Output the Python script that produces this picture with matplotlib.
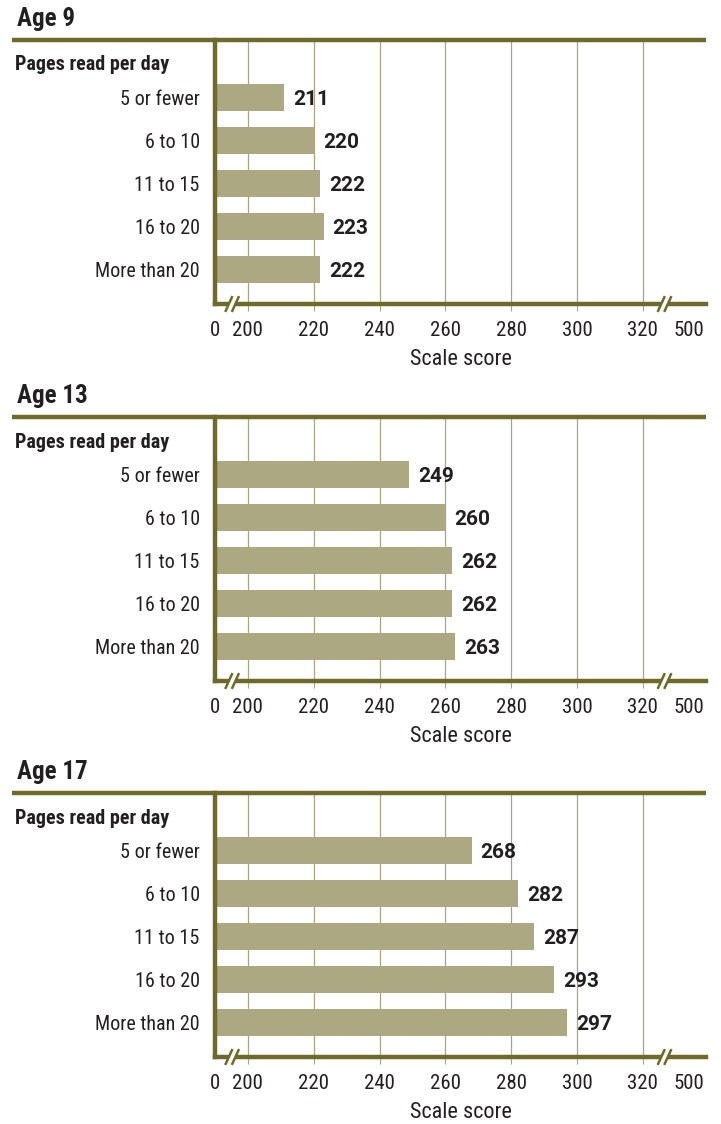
import matplotlib.pyplot as plt
import matplotlib.transforms as mtransforms

plt.rcParams['font.family'] = ['Roboto Condensed', 'DejaVu Sans']

# data
ages = ['Age 9', 'Age 13', 'Age 17']
pages = ['5 or fewer', '6 to 10', '11 to 15', '16 to 20', 'More than 20']
age9 = [211, 220, 222, 223, 222]
age13 = [249, 260, 262, 262, 263]
age17 = [268, 282, 287, 293, 297]
scores = [age9, age13, age17]
grid_ticks = [200, 220, 240, 260, 280, 300, 320]

olive = '#6d6a2c'
bar_col = '#aba882'
grid_col = '#a9a67f'
txt = '#231f20'

W, H = 721, 1124
fig = plt.figure(figsize=(W / 100, H / 100), dpi=100)

ax_left, ax_right = 215, 706
ax_h = 264
tops = [40, 417, 793]

# x scale: left axis sits at 190, right end at ~339
x0, x1 = 190, 339.2
step = 43.0
first = 57.5

for k in range(3):
    top = tops[k]
    ax = fig.add_axes([ax_left / W, 1 - (top + ax_h) / H, (ax_right - ax_left) / W, ax_h / H])
    vals = scores[k]
    ypos = list(range(len(pages)))
    ax.barh(ypos, [v - x0 for v in vals], left=x0, height=0.63, color=bar_col, zorder=2)
    for y, v in zip(ypos, vals):
        ax.annotate(str(v), (v, y), xytext=(6.5, -1.5), textcoords='offset points',
                    ha='left', va='center', fontsize=15, fontweight='bold', color=txt,
                    family='Roboto')
    ax.set_xlim(x0, x1)
    ax.set_ylim((ax_h - first) / step, -first / step)
    ax.set_yticks(ypos)
    ax.set_yticklabels(pages, fontsize=14.5, color=txt)
    ax.tick_params(axis='y', length=0, pad=11)
    ax.set_xticks(grid_ticks)
    ax.set_xticklabels([str(t) for t in grid_ticks], fontsize=15, color=txt)
    ax.set_xticks([x0, 334], minor=True)
    ax.set_xticklabels(['0', '500'], minor=True, fontsize=15, color=txt)
    ax.tick_params(axis='x', which='major', length=5, width=0.8, color=grid_col, pad=7.5)
    ax.tick_params(axis='x', which='minor', length=0, pad=12.5)
    ax.grid(axis='x', color=grid_col, linewidth=0.9, zorder=1)
    ax.set_axisbelow(True)
    for s in ['top', 'right']:
        ax.spines[s].set_visible(False)
    for s in ['left', 'bottom']:
        ax.spines[s].set_color(olive)
        ax.spines[s].set_linewidth(3.2)
        ax.spines[s].set_capstyle('projecting')
        ax.spines[s].set_zorder(3)
    ax.set_xlabel('Scale score', fontsize=16, color=txt, labelpad=6)

    # top rule across the full width
    ax.plot([(12 - ax_left) / (ax_right - ax_left), 1], [1, 1], transform=ax.transAxes,
            color=olive, linewidth=3.2, clip_on=False, solid_capstyle='butt', zorder=4)

    # axis break marks
    trans = mtransforms.blended_transform_factory(ax.transData, ax.transAxes)
    for bx in [195.2, 326.6]:
        ax.plot([bx - 0.9, bx + 0.9], [-0.025, 0.025], transform=trans, color='white',
                linewidth=4, clip_on=False, zorder=5, solid_capstyle='butt')
        for d in [-1.0, 1.0]:
            ax.plot([bx + d - 1.1, bx + d + 1.1], [-0.03, 0.03], transform=trans, color=olive,
                    linewidth=1.8, clip_on=False, zorder=6, solid_capstyle='butt')

    fig.text(17 / W, 1 - (top - 21) / H, ages[k], fontsize=18, fontweight='bold',
             color=txt, ha='left', va='center')
    fig.text(15 / W, 1 - (top + 25) / H, 'Pages read per day', fontsize=14.5, fontweight='bold',
             color=txt, ha='left', va='center')

fig.savefig('out.png', dpi=100)
